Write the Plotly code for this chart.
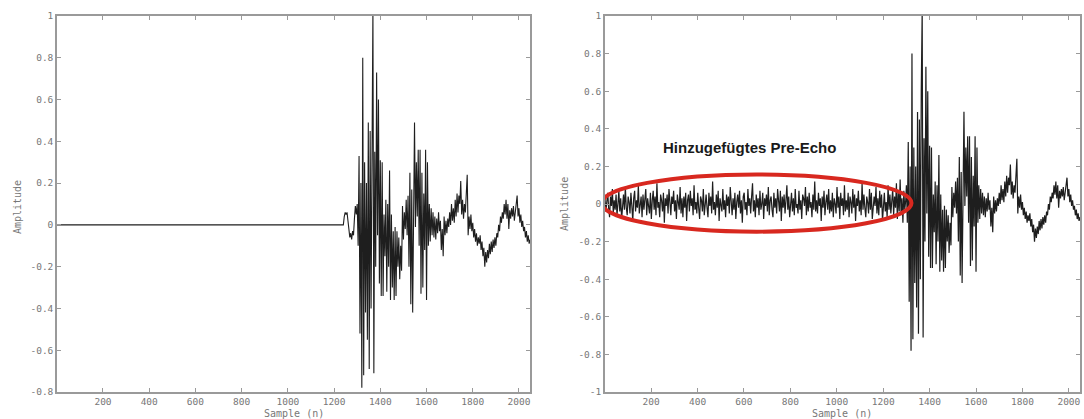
import plotly.graph_objects as go

# ---------------- data ----------------
silence_start = 1
echo_start = 1240      # first sample of the echo segment
echo_step = 4          # samples between listed values
echo_values = [
    0.00, 0.04, 0.06, 0.05, 0.06, 0.02, -0.03, -0.06, -0.04, -0.07,
    -0.03, -0.05, 0.03, 0.09, 0.05, 0.10, -0.10, 0.33, -0.52, 0.20,
    -0.78, 0.80, -0.72, 0.30, -0.42, 0.20, -0.55, 0.49, -0.69, 0.45,
    -0.40, 0.60, 1.03, -0.71, 0.35, -0.20, 0.73, -0.05, 0.60, -0.28,
    0.31, -0.34, 0.30, -0.34, 0.05, -0.15, 0.12, -0.32, 0.10, -0.20,
    0.26, -0.36, 0.05, -0.30, -0.03, -0.36, -0.01, -0.34, -0.03, -0.20,
    -0.06, -0.26, -0.10, -0.22, 0.09, -0.07, 0.06, -0.02, 0.12, -0.05,
    0.14, -0.20, 0.25, -0.38, 0.17, -0.42, 0.20, 0.49, -0.01, 0.30,
    0.04, 0.36, -0.10, 0.36, -0.33, 0.25, -0.30, 0.15, -0.12, 0.36,
    -0.36, 0.30, -0.10, 0.10, -0.08, 0.08, -0.05, 0.06, -0.06, 0.04,
    -0.07, 0.03, -0.04, 0.06, -0.03, 0.02, -0.12, -0.02, -0.15, 0.04,
    -0.05, 0.02, -0.04, 0.03, -0.01, 0.06, 0.00, 0.10, 0.02, 0.08,
    0.01, 0.12, 0.04, 0.15, 0.06, 0.14, 0.10, 0.21, 0.05, 0.12,
    0.03, 0.10, 0.06, 0.18, 0.24, -0.05, 0.04, -0.02, 0.05, -0.03,
    0.01, -0.06, -0.02, -0.08, -0.04, -0.10, -0.06, -0.09, -0.05, -0.12,
    -0.08, -0.15, -0.11, -0.20, -0.13, -0.18, -0.12, -0.16, -0.09, -0.14,
    -0.08, -0.13, -0.07, -0.11, -0.06, -0.10, -0.04, -0.06, 0.00, -0.03,
    0.04, 0.01, 0.06, 0.03, 0.10, 0.05, 0.12, 0.03, 0.10, -0.02,
    0.07, 0.03, 0.08, 0.04, 0.09, 0.02, 0.07, 0.10, 0.14, 0.04,
    0.08, 0.01, 0.05, -0.01, 0.02, -0.03, -0.01, -0.06, -0.03, -0.08,
    -0.05, -0.09, -0.07,
]

pre_echo_start = 1
pre_echo_step = 4
pre_echo_end = 1300
pre_echo_values = [
    0.03, -0.04, 0.01, 0.06, -0.02, -0.07, 0.04, -0.01, 0.08, -0.05, 0.02, -0.03, 0.05,
    -0.06, 0.00, 0.07, -0.04, 0.03, -0.08, 0.02, 0.05, -0.03, 0.09, -0.02, -0.06, 0.04,
    0.01, -0.05, 0.06, -0.01, -0.09, 0.03, 0.07, -0.04, 0.02, -0.02, 0.10, -0.05, 0.00,
    0.04, -0.07, 0.05, -0.03, 0.01, 0.08, -0.06, 0.03, -0.01, -0.05, 0.06, -0.08, 0.02,
    0.07, -0.03, 0.04, -0.06, 0.11, -0.02, 0.01, -0.07, 0.05, 0.02, -0.04, 0.06, -0.10,
    0.03, -0.01, 0.05, -0.05, 0.08, -0.03, -0.06, 0.04, 0.00, 0.07, -0.04, 0.02, -0.08,
    0.05, 0.01, -0.03, 0.09, -0.05, 0.03, -0.07, 0.04, -0.02, 0.06, -0.09, 0.02, 0.05,
    -0.04, 0.07, -0.01, 0.03, -0.06, 0.10, -0.03, 0.01, -0.05, 0.06, -0.02, -0.08, 0.04,
    0.02, -0.04, 0.08, -0.06, 0.03, 0.05, -0.02, -0.07, 0.06, -0.01, 0.04, -0.05, 0.12,
    -0.03, 0.01, -0.06, 0.05, -0.02, 0.07, -0.09, 0.03, 0.00, -0.04, 0.08, -0.03, 0.02,
    -0.07, 0.05, -0.01, 0.04, -0.05, 0.09, 0.02, -0.06, 0.03, -0.03, 0.06, -0.08, 0.01,
    0.05, -0.02, 0.07, -0.05, 0.02, -0.10, 0.04, 0.06, -0.03, 0.01, -0.06, 0.08, -0.01,
    0.03, -0.05, 0.04, 0.11, -0.04, 0.02, -0.07, 0.05, -0.02, 0.03, -0.06, 0.07, -0.03,
    0.00, 0.06, -0.08, 0.03, -0.01, 0.05, -0.04, 0.09, -0.06, 0.02, 0.04, -0.03, -0.07,
    0.06, -0.02, 0.03, -0.05, 0.08, -0.01, -0.04, 0.07, -0.09, 0.04, -0.02, 0.05, -0.05,
    0.02, 0.10, -0.03, 0.04, -0.07, 0.01, 0.06, -0.04, 0.03, -0.06, 0.08, -0.02, 0.00,
    -0.05, 0.07, -0.03, 0.02, -0.08, 0.05, 0.03, -0.01, 0.09, -0.06, 0.04, -0.04, 0.06,
    -0.02, 0.01, -0.07, 0.05, -0.03, 0.12, -0.04, 0.02, -0.05, 0.06, -0.01, 0.03, -0.09,
    0.04, -0.02, 0.07, -0.06, 0.01, 0.05, -0.03, 0.08, -0.05, 0.02, -0.04, 0.06, -0.07,
    0.03, 0.00, -0.05, 0.09, -0.02, 0.04, -0.08, 0.06, -0.01, 0.03, -0.06, 0.10, -0.04,
    0.02, -0.03, 0.06, -0.07, 0.04, 0.01, -0.05, 0.08, -0.02, 0.05, -0.09, 0.03, -0.01,
    0.07, -0.04, 0.02, -0.06, 0.11, -0.03, 0.05, -0.02, -0.07, 0.04, 0.01, -0.05, 0.08,
    -0.03, 0.06, -0.08, 0.02, 0.04, -0.01, 0.09, -0.05, 0.03, -0.06, 0.07, -0.02, 0.05,
    -0.09, 0.03, 0.06, -0.04, 0.01, -0.07, 0.10, -0.03, 0.05, -0.05, 0.02, 0.08, -0.06,
    0.04, -0.02, 0.11, -0.08, 0.06, -0.04, 0.13, -0.05, 0.03, -0.10, 0.07, -0.03, 0.02,
]

x_range = [1, 2048]
x_tickvals = [200, 400, 600, 800, 1000, 1200, 1400, 1600, 1800, 2000]
x_ticktext = ["200", "400", "600", "800", "1000", "1200", "1400", "1600", "1800", "2000"]
y1_tickvals = [1, 0.8, 0.6, 0.4, 0.2, 0, -0.2, -0.4, -0.6, -0.8]
y1_ticktext = ["1", "0.8", "0.6", "0.4", "0.2", "0", "-0.2", "-0.4", "-0.6", "-0.8"]
y2_tickvals = [1, 0.8, 0.6, 0.4, 0.2, 0, -0.2, -0.4, -0.6, -0.8, -1]
y2_ticktext = ["1", "0.8", "0.6", "0.4", "0.2", "0", "-0.2", "-0.4", "-0.6", "-0.8", "-1"]

annotation_text = "Hinzugefügtes Pre-Echo"
x_title = "Sample (n)"
y_title = "Amplitude"

# ---------------- build series ----------------
echo_n = [echo_start + echo_step * i for i in range(len(echo_values))]
pre_n = [pre_echo_start + pre_echo_step * i for i in range(len(pre_echo_values))]

left_x = [silence_start] + echo_n
left_y = [0.0] + echo_values

right_x = pre_n + [n for n in echo_n if n >= pre_echo_end]
right_y = pre_echo_values + [v for n, v in zip(echo_n, echo_values) if n >= pre_echo_end]

line_color = "#1e1e1e"
frame_color = "#9a9a9a"
tick_font = dict(family="DejaVu Sans Mono", size=9.5, color="#777777")

fig = go.Figure()
fig.add_trace(go.Scatter(x=left_x, y=left_y, mode="lines",
                         line=dict(color=line_color, width=1.1),
                         xaxis="x", yaxis="y", showlegend=False, hoverinfo="skip"))
fig.add_trace(go.Scatter(x=right_x, y=right_y, mode="lines",
                         line=dict(color=line_color, width=1.2),
                         xaxis="x2", yaxis="y2", showlegend=False, hoverinfo="skip"))

axis_common = dict(showgrid=False, zeroline=False, showline=True, linecolor=frame_color,
                   linewidth=1.5, mirror="ticks", ticks="inside", ticklen=4,
                   tickcolor=frame_color, tickwidth=1, tickfont=tick_font)

L, R, T, B = 57, 2, 16, 27
W, H = 1084, 419
pw = W - L - R
d1 = [0, (531 - L) / pw]
d2 = [(606 - L) / pw, 1]

fig.update_layout(
    width=W, height=H,
    margin=dict(l=L, r=R, t=T, b=B),
    paper_bgcolor="white", plot_bgcolor="white",
    xaxis=dict(domain=d1, range=x_range, tickvals=x_tickvals, ticktext=x_ticktext,
               anchor="y", **axis_common),
    yaxis=dict(domain=[0, 1], range=[-0.8, 1], tickvals=y1_tickvals, ticktext=y1_ticktext,
               anchor="x", **axis_common),
    xaxis2=dict(domain=d2, range=x_range, tickvals=x_tickvals, ticktext=x_ticktext,
                anchor="y2", **axis_common),
    yaxis2=dict(domain=[0, 1], range=[-1, 1], tickvals=y2_tickvals, ticktext=y2_ticktext,
                anchor="x2", **axis_common),
)

title_font = dict(family="DejaVu Sans Mono", size=10, color="#777777")
fig.add_annotation(text=y_title, xref="paper", yref="paper", x=(17 - L) / pw, y=0.492,
                   textangle=-90, showarrow=False, font=title_font, xanchor="center", yanchor="middle")
fig.add_annotation(text=y_title, xref="paper", yref="paper", x=(565 - L) / pw, y=0.5,
                   textangle=-90, showarrow=False, font=title_font, xanchor="center", yanchor="middle")
fig.add_annotation(text=x_title, xref="x domain", yref="paper", x=0.5, y=-0.058,
                   showarrow=False, font=title_font, xanchor="center", yanchor="middle")
fig.add_annotation(text=x_title, xref="x2 domain", yref="paper", x=0.5, y=-0.058,
                   showarrow=False, font=title_font, xanchor="center", yanchor="middle")

# red ellipse marking the added pre-echo
fig.add_shape(type="circle", xref="x2", yref="y2", x0=-12, x1=1322, y0=-0.147, y1=0.157,
              line=dict(color="#d8281f", width=4), fillcolor="rgba(0,0,0,0)")
fig.add_annotation(text="<b>" + annotation_text + "</b>", xref="x2", yref="y2",
                   x=625, y=0.30, showarrow=False,
                   font=dict(family="Liberation Sans", size=15, color="#1a1a1a"))

fig.write_html("out.html", config={"displayModeBar": False},
               post_script="document.body.style.margin='0';document.body.style.padding='0';")
